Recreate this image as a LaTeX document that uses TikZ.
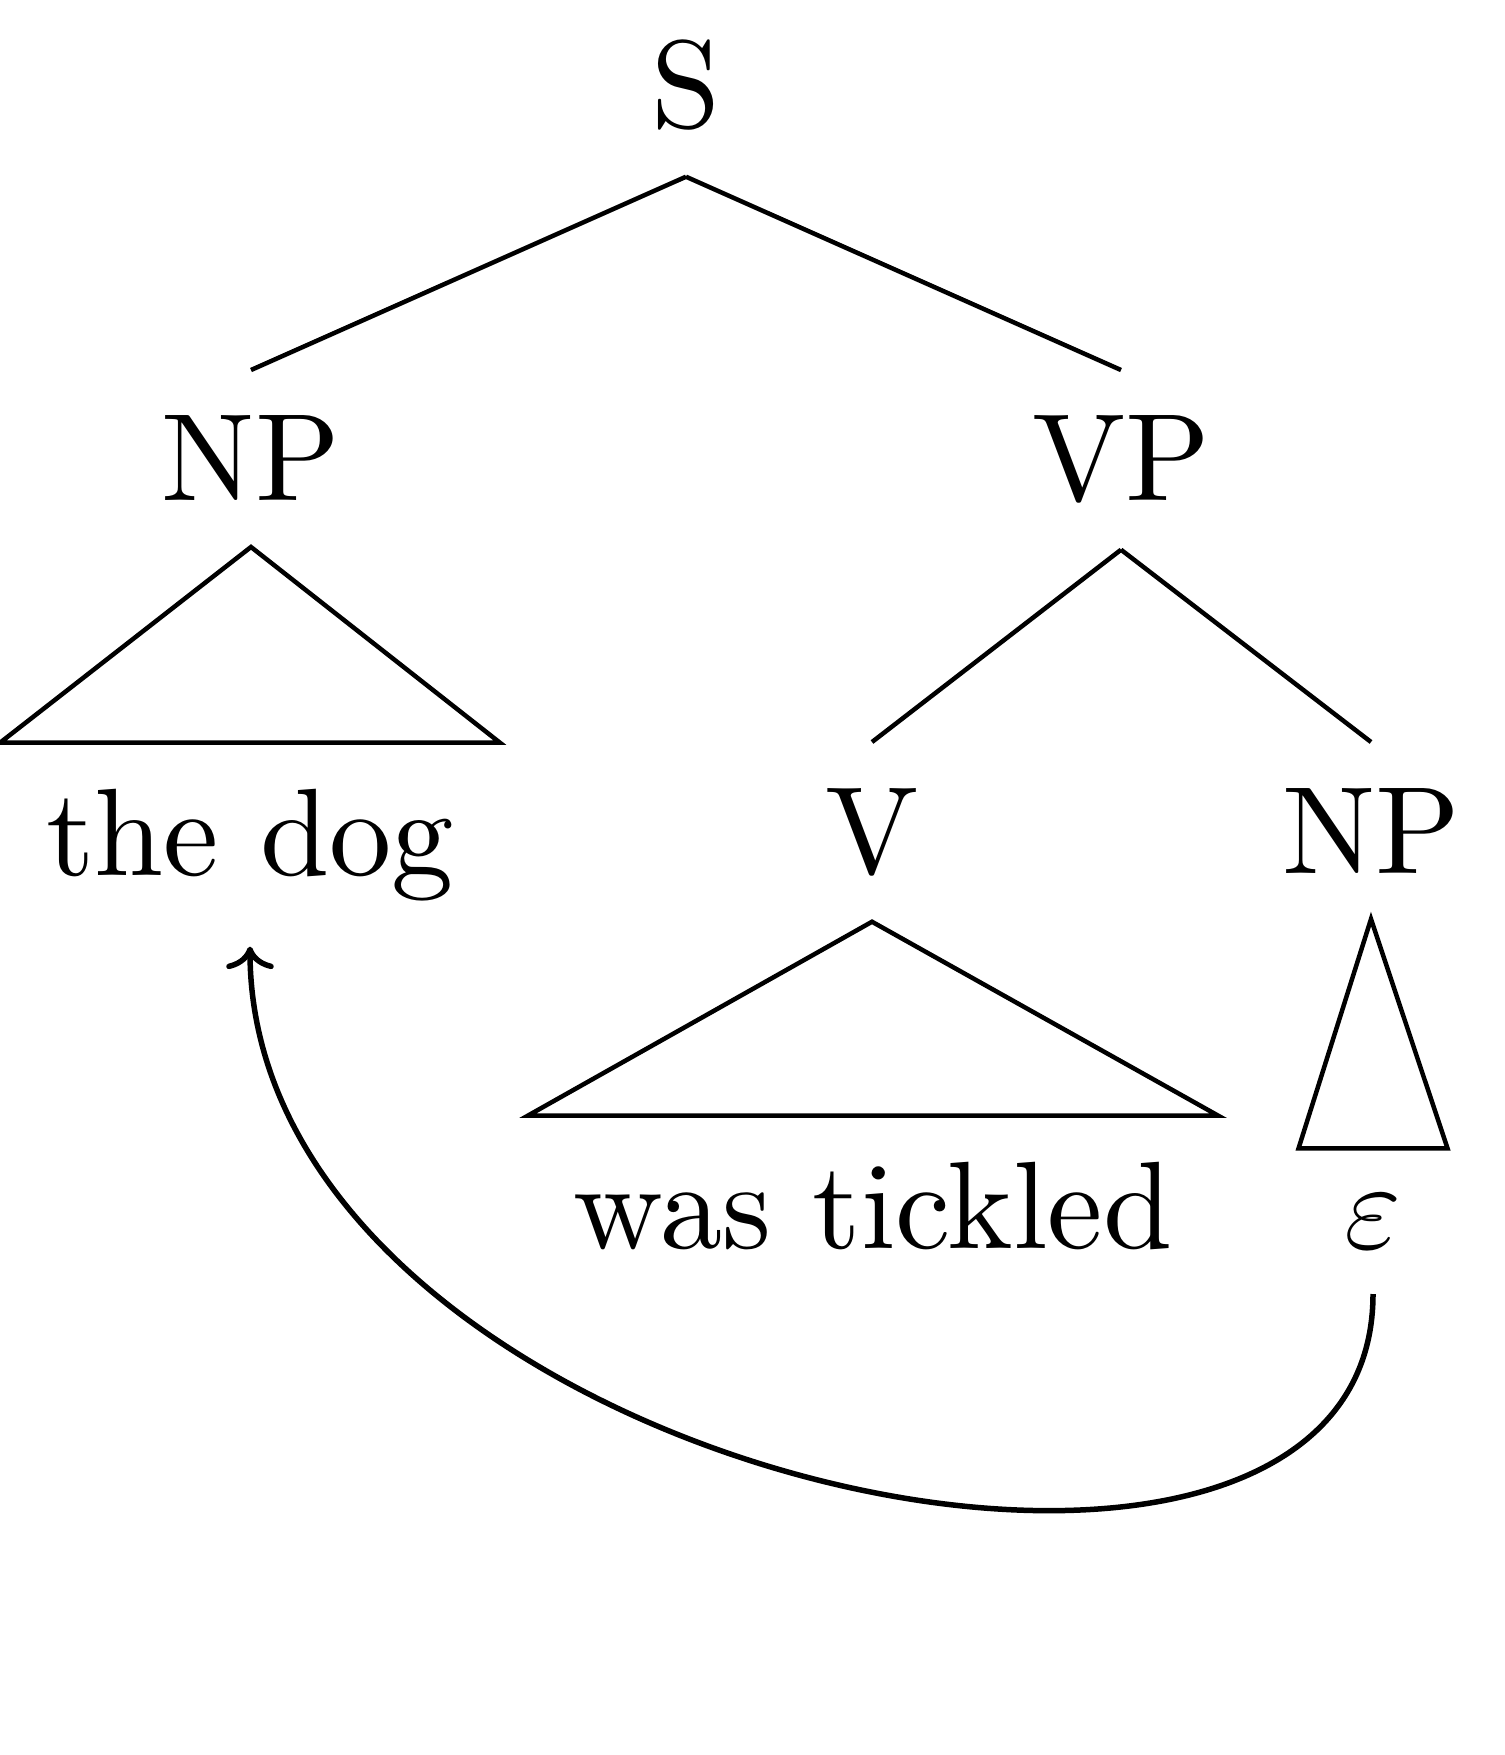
\documentclass[tikz,border=0pt]{standalone}
\usepackage{fontspec}
\newfontfamily\lmten{lmroman10-regular.otf}
\usetikzlibrary{arrows.meta}
\begin{document}
\begin{tikzpicture}[x=0.2pt,y=-0.2pt,
  lab/.style={anchor=base, inner sep=9pt, font=\lmten\fontsize{24.88}{30}\selectfont},
  edge/.style={line width=0.9pt},
  roof/.style={line width=0.9pt, line join=miter},
  mv/.style={line width=1.1pt, -{To[length=4.5pt,width=9.5pt]}}]
\useasboundingbox (0,0) rectangle (1504,1755);
\node[lab] (S)   at (686,128)  {S};
\node[lab] (NPa) at (251,501)  {NP};
\node[lab] (VP)  at (1121,501) {VP};
\node[lab] (dog) at (250,875)  {the dog};
\node[lab] (V)   at (872,873)  {V};
\node[lab] (NPb) at (1371,873) {NP};
\node[lab] (wt)  at (873,1248) {was tickled};
\node[lab] (eps) at (1373,1248) {$\varepsilon$};
\draw[edge] (S.south) -- (NPa.north);
\draw[edge] (S.south) -- (VP.north);
\draw[roof] (NPa.south) -- (dog.north west) -- (dog.north east) -- cycle;
\draw[edge] (VP.south) -- (V.north);
\draw[edge] (VP.south) -- (NPb.north);
\draw[roof] (V.south) -- (wt.north west) -- (wt.north east) -- cycle;
\draw[roof] (NPb.south) -- (eps.north west) -- (eps.north east) -- cycle;
\draw[mv] (eps.south) .. controls +(0,423) and +(0,530) .. (dog.south);
\end{tikzpicture}
\end{document}
